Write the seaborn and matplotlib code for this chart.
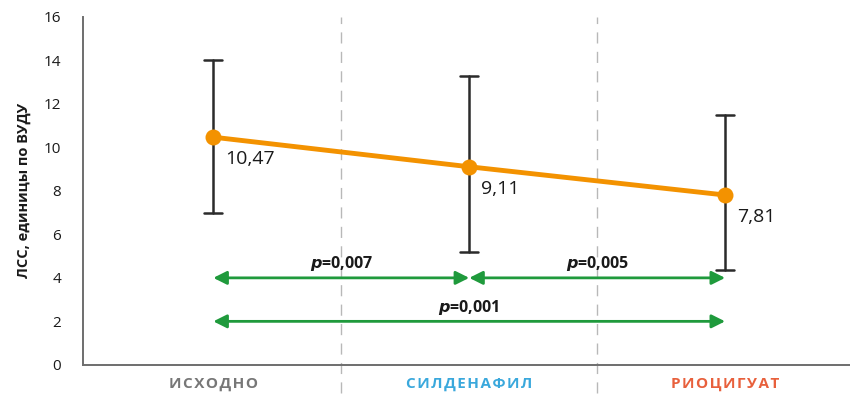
import matplotlib
matplotlib.use("Agg")
import matplotlib.pyplot as plt
import seaborn as sns
import pandas as pd

# Data
stages = ["ИСХОДНО", "СИЛДЕНАФИЛ", "РИОЦИГУАТ"]
stage_colors = ["#777777", "#3aa8dc", "#e8603c"]
means = [10.47, 9.11, 7.81]
err_low = [7.0, 5.2, 4.35]
err_high = [14.0, 13.3, 11.5]
value_labels = ["10,47", "9,11", "7,81"]
comparisons = [(0, 1, 4, "0,007"), (1, 2, 4, "0,005"), (0, 2, 2, "0,001")]
yticks = [0, 2, 4, 6, 8, 10, 12, 14, 16]

sns.set_style("white")
plt.rcParams["font.family"] = ["Open Sans", "DejaVu Sans"]

fig = plt.figure(figsize=(8.5, 3.94), dpi=100)
ax = fig.add_axes([0.098, 0.074, 0.902, 0.883])

df = pd.DataFrame({"x": range(len(stages)), "y": means})
orange = "#f39200"

# Separators between stages
for xs in (0.5, 1.5):
    ax.plot([xs, xs], [-0.08, 1.0], transform=ax.get_xaxis_transform(),
            color="#b8b8b8", lw=1, ls=(0, (8, 6)), clip_on=False, zorder=0)

# Error bars
for i in range(len(stages)):
    ax.plot([i, i], [err_low[i], err_high[i]], color="#2b2b2b", lw=1.8, zorder=2)
    for yv in (err_low[i], err_high[i]):
        ax.plot([i - 0.035, i + 0.035], [yv, yv], color="#2b2b2b", lw=1.8, zorder=2)

sns.lineplot(data=df, x="x", y="y", ax=ax, color=orange, lw=3.5,
             marker="o", markersize=11.5, markeredgewidth=0, zorder=3)

for i, (m, lab) in enumerate(zip(means, value_labels)):
    ax.text(i + 0.048, m - 0.6, lab, fontsize=14, color="#1a1a1a",
            ha="left", va="top")

# Significance arrows with p-values centred over each span
green = "#1f9a3c"
for a, b, yv, p in comparisons:
    ax.annotate("", xy=(b, yv), xytext=(a, yv),
                arrowprops=dict(arrowstyle="<|-|>", color=green, lw=2,
                                mutation_scale=20, shrinkA=0, shrinkB=0))
    ax.text((a + b) / 2, yv + 0.22, r"$\mathbfit{p}$=" + p, fontsize=11.5,
            fontweight="bold", ha="center", va="bottom", color="#1a1a1a")

ax.set_xlim(-0.508, 2.488)
ax.set_ylim(0, 16)
ax.set_yticks(yticks)
ax.set_yticklabels([str(t) for t in yticks], fontsize=11, color="#1a1a1a")
ax.set_xticks(range(len(stages)))
ax.set_xticklabels(["\u200a".join(s) for s in stages], fontsize=11,
                   fontweight="bold")
for lab, c in zip(ax.get_xticklabels(), stage_colors):
    lab.set_color(c)
ax.tick_params(axis="x", length=0, pad=9)
ax.tick_params(axis="y", length=0, pad=16)
ax.set_xlabel("")
ax.set_ylabel("ЛСС, единицы по ВУДУ", fontsize=10.5, fontweight="bold",
              color="#1a1a1a", labelpad=9)

for side in ("top", "right"):
    ax.spines[side].set_visible(False)
for side in ("left", "bottom"):
    ax.spines[side].set_color("#6e6e6e")
    ax.spines[side].set_linewidth(1.4)

fig.savefig("out.png", dpi=100)
